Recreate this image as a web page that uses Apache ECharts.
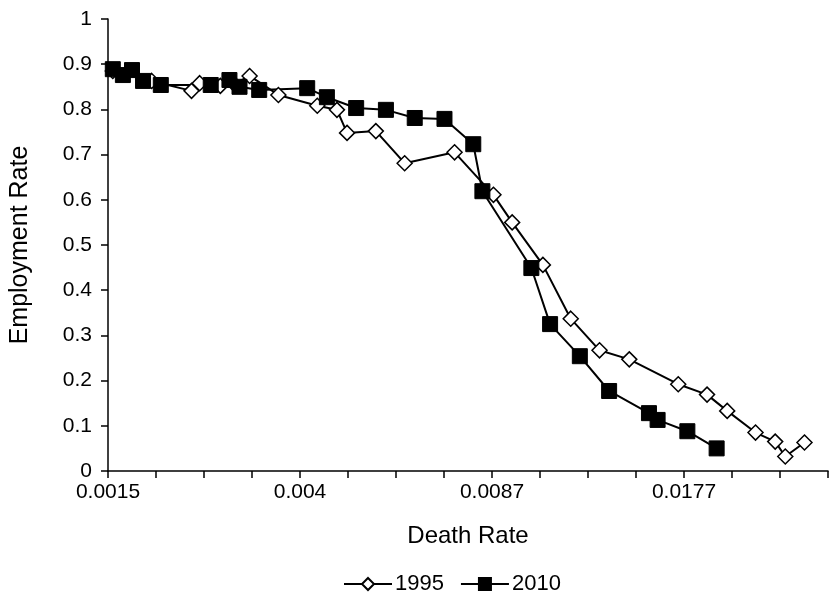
<!DOCTYPE html>
<html>
<head>
<meta charset="utf-8">
<title>Employment Rate vs Death Rate</title>
<script src="https://cdn.jsdelivr.net/npm/echarts@6/dist/echarts.min.js"></script>
<style>
  html, body { margin: 0; padding: 0; background: #fff; }
  #chart { width: 836px; height: 597px; }
</style>
</head>
<body>
<div id="chart"></div>
<script>
// x positions are in axis steps (one step = one minor tick), labels every 4 steps
var xTickLabels = ['0.0015', '0.004', '0.0087', '0.0177'];
var yearNames = ['1995', '2010'];

var xPos1995 = [0.10, 0.91, 1.74, 1.91, 2.34, 2.63, 2.95, 3.55, 4.36, 4.77, 4.98, 5.58, 6.18, 7.22,
                8.03, 8.42, 9.06, 9.64, 10.24, 10.86, 11.88, 12.48, 12.90, 13.49, 13.90, 14.11, 14.51];
var rate1995 = [0.885, 0.863, 0.841, 0.858, 0.852, 0.856, 0.874, 0.832, 0.808, 0.799, 0.748, 0.752, 0.681, 0.705,
                0.611, 0.550, 0.456, 0.337, 0.267, 0.247, 0.192, 0.169, 0.133, 0.085, 0.065, 0.032, 0.063];

var xPos2010 = [0.10, 0.31, 0.50, 0.73, 1.10, 2.14, 2.53, 2.74, 3.15, 4.15, 4.56, 5.17, 5.79, 6.39, 7.01,
                7.61, 7.80, 8.82, 9.21, 9.83, 10.44, 11.27, 11.45, 12.07, 12.68];
var rate2010 = [0.889, 0.876, 0.887, 0.863, 0.854, 0.854, 0.865, 0.850, 0.843, 0.847, 0.827, 0.803, 0.799, 0.781, 0.779,
                0.723, 0.619, 0.449, 0.325, 0.254, 0.177, 0.128, 0.113, 0.088, 0.050];

function pairs(xs, ys) {
  var out = [];
  for (var i = 0; i < xs.length; i++) {
    out.push([xs[i], ys[i]]);
  }
  return out;
}

var textFont = 'Liberation Sans, Arial, sans-serif';
var chart = echarts.init(document.getElementById('chart'), null, { renderer: 'canvas' });

var option = {
  backgroundColor: '#ffffff',
  animation: false,
  textStyle: { fontFamily: textFont, color: '#000' },
  grid: { left: 105, right: 8, top: 19, bottom: 126, containLabel: false },
  legend: {
    data: yearNames,
    top: 568,
    left: 338,
    itemWidth: 48,
    itemHeight: 15,
    itemGap: 16,
    textStyle: { fontFamily: textFont, fontSize: 22, color: '#000', padding: [0, 0, 0, -2] }
  },
  xAxis: {
    type: 'value',
    min: 0,
    max: 15,
    interval: 1,
    name: 'Death Rate',
    nameLocation: 'middle',
    nameGap: 53,
    nameTextStyle: { fontFamily: textFont, fontSize: 24, color: '#000' },
    axisLine: { lineStyle: { color: '#000', width: 1.5 } },
    axisTick: { show: true, inside: false, length: 7, lineStyle: { color: '#000', width: 1.5 } },
    axisLabel: {
      fontFamily: textFont, fontSize: 21, color: '#000', margin: 11,
      formatter: function (v) {
        return v % 4 === 0 && xTickLabels[v / 4] ? xTickLabels[v / 4] : '';
      }
    },
    splitLine: { show: false }
  },
  yAxis: {
    type: 'value',
    min: 0,
    max: 1,
    interval: 0.1,
    name: 'Employment Rate',
    nameLocation: 'middle',
    nameGap: 75,
    nameRotate: 90,
    nameTextStyle: { fontFamily: textFont, fontSize: 25, color: '#000' },
    axisLine: { show: true, lineStyle: { color: '#000', width: 1.5 } },
    axisTick: { show: true, inside: false, length: 7, lineStyle: { color: '#000', width: 1.5 } },
    axisLabel: {
      fontFamily: textFont, fontSize: 21, color: '#000', margin: 16,
      formatter: function (v) { return String(Math.round(v * 10) / 10); }
    },
    splitLine: { show: false }
  },
  series: [
    {
      name: yearNames[0],
      type: 'line',
      data: pairs(xPos1995, rate1995),
      symbol: 'diamond',
      symbolSize: 15,
      showAllSymbol: true,
      lineStyle: { color: '#000', width: 2 },
      itemStyle: { color: '#fff', borderColor: '#000', borderWidth: 1.5 }
    },
    {
      name: yearNames[1],
      type: 'line',
      data: pairs(xPos2010, rate2010),
      symbol: 'rect',
      symbolSize: 15,
      showAllSymbol: true,
      lineStyle: { color: '#000', width: 2 },
      itemStyle: { color: '#000', borderColor: '#000', borderWidth: 1 }
    }
  ]
};

chart.setOption(option);
</script>
</body>
</html>
